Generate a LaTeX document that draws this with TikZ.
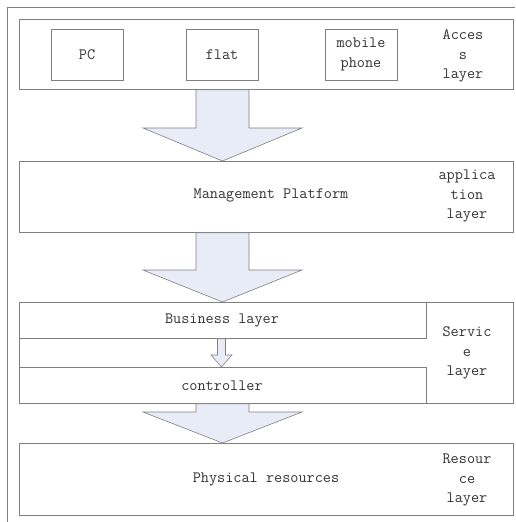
\documentclass[tikz,border=0pt]{standalone}
\usepackage{fontspec}
\usetikzlibrary{calc}
\definecolor{ln}{HTML}{7F7F7F}
\definecolor{af}{HTML}{E7ECF6}
\definecolor{tx}{HTML}{333333}
\begin{document}
\begin{tikzpicture}[x=1pt,y=-1pt,
  txtfont/.style={font=\fontsize{15.8}{19.5}\selectfont\ttfamily, text=tx},
  box/.style={draw=ln, line width=0.8pt, inner sep=0pt, anchor=north west, txtfont},
  devbox/.style={draw=ln, line width=0.8pt, inner sep=0pt, minimum width=72pt, minimum height=51pt, align=center, txtfont},
  lbl/.style={align=center, inner sep=0pt, txtfont},
  barrow/.style={draw=ln, fill=af, line width=0.6pt, line join=miter}]
\useasboundingbox (0,0) rectangle (515,522);
\draw[ln, line width=0.8pt] (7,522) -- (7,7) -- (515,7);

% Access layer
\node[box, minimum width=494pt, minimum height=70pt] (acc) at (19,19) {};
\node[devbox] (pc) at (87,54.5) {PC};
\node[devbox] (flat) at (222,54.5) {flat};
\node[devbox] (mob) at (361,54.5) {mobile\\phone};
\node[lbl] (accT) at (463,56) {Acces\\s\\layer};

% Application layer
\node[box, minimum width=494pt, minimum height=71pt] (mgmt) at (19,161) {};
\node[lbl] (mgmtT) at (271,195) {Management Platform};
\node[lbl] (appT) at (467,196) {applica\\tion\\layer};

% Service layer
\node[box, minimum width=494pt, minimum height=101pt] (serv) at (19,302) {};
\node[box, minimum width=407pt, minimum height=36pt] (bus) at (19,302) {};
\node[box, minimum width=407pt, minimum height=36pt] (ctrl) at (19,367) {};
\node[lbl] (busT) at (222,320) {Business layer};
\node[lbl] (ctrlT) at (222,386) {controller};
\node[lbl] (servT) at (467,353) {Servic\\e\\layer};

% Resource layer
\node[box, minimum width=494pt, minimum height=72pt] (phys) at (19,443) {};
\node[lbl] (physT) at (266,479) {Physical resources};
\node[lbl] (resT) at (467,480) {Resour\\ce\\layer};

% arrow axes
\coordinate (ax) at (222.5,0);
\coordinate (sx) at (221.5,0);

\path[barrow] let \p1=(acc.south -| ax), \p2=(mgmt.north -| ax) in
  (\x1-26.5pt,\y1) -- (\x1-26.5pt,\y2+33pt) -- (\x1-79.5pt,\y2+33pt) -- (\p2)
  -- (\x1+79.5pt,\y2+33pt) -- (\x1+26.5pt,\y2+33pt) -- (\x1+26.5pt,\y1) -- cycle;
\path[barrow] let \p1=(mgmt.south -| ax), \p2=(serv.north -| ax) in
  (\x1-26.5pt,\y1) -- (\x1-26.5pt,\y2+32pt) -- (\x1-79.5pt,\y2+32pt) -- (\p2)
  -- (\x1+79.5pt,\y2+32pt) -- (\x1+26.5pt,\y2+32pt) -- (\x1+26.5pt,\y1) -- cycle;
\path[barrow] let \p1=(ctrl.south -| ax), \p2=(phys.north -| ax) in
  (\x1-26.5pt,\y1) -- (\x1-26.5pt,\y2+31pt) -- (\x1-79.5pt,\y2+31pt) -- (\p2)
  -- (\x1+79.5pt,\y2+31pt) -- (\x1+26.5pt,\y2+31pt) -- (\x1+26.5pt,\y1) -- cycle;
\path[barrow] let \p1=(bus.south -| sx), \p2=(ctrl.north -| sx) in
  (\x1-4pt,\y1) -- (\x1-4pt,\y2+12pt) -- (\x1-10.5pt,\y2+12pt) -- (\p2)
  -- (\x1+10.5pt,\y2+12pt) -- (\x1+4pt,\y2+12pt) -- (\x1+4pt,\y1) -- cycle;
\end{tikzpicture}
\end{document}
